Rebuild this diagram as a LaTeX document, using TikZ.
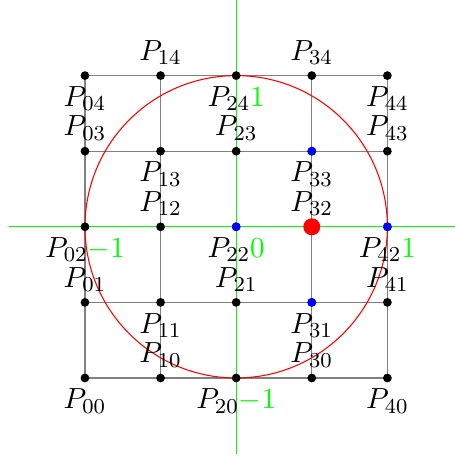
\documentclass[tikz,border=0pt]{standalone}
\begin{document}
\begin{tikzpicture}[
  gridline/.style={gray, line width=0.4pt},
  axisline/.style={green, line width=0.4pt},
  circleline/.style={red, line width=0.4pt},
  dot/.style={circle, fill=black, inner sep=0pt, minimum size=3.3pt},
  bluedot/.style={dot, fill=blue},
  reddot/.style={circle, fill=red, inner sep=0pt, minimum size=6.4pt},
  lab/.style={inner sep=3.9pt, font=\fontsize{10.95}{13.6}\selectfont}
]
\useasboundingbox (-1.124,-1.045) rectangle (4.894,5.0);
% coordinates
\foreach \i in {0,...,4}{
  \foreach \j in {0,...,4}{
    \coordinate (p\i\j) at (\i,\j);
  }
}
% grid
\foreach \j in {0,...,4}{
  \draw[gridline] (p0\j) -- (p4\j);
}
\foreach \i in {0,...,4}{
  \draw[gridline] (p\i0) -- (p\i4);
}
% axes
\coordinate (xa) at (-1,2);
\coordinate (xb) at (5,2);
\coordinate (ya) at (2,-1);
\coordinate (yb) at (2,5);
\draw[axisline] (xa) -- (xb);
\draw[axisline] (ya) -- (yb);
% circle
\draw[circleline] (p22) circle (2);
% dots
\foreach \i in {0,...,4}{
  \foreach \j in {0,...,4}{
    \node[dot] (d\i\j) at (p\i\j) {};
  }
}
\node[bluedot] (b22) at (p22) {};
\node[bluedot] (b33) at (p33) {};
\node[bluedot] (b31) at (p31) {};
\node[bluedot] (b42) at (p42) {};
\node[reddot] (r32) at (p32) {};
% labels
\foreach \i/\j/\pos in {
  0/4/below,1/4/above,3/4/above,4/4/below,
  0/3/above,1/3/below,2/3/above,3/3/below,4/3/above,
  1/2/above,3/2/above,
  0/1/above,1/1/below,2/1/above,3/1/below,4/1/above,
  0/0/below,1/0/above,3/0/above,4/0/below}{
  \node[lab,\pos] (l\i\j) at (p\i\j) {$P_{\i\j}$};
}
\node[lab,below] (l24) at (p24) {$P_{24}$\textcolor{green}{1}};
\node[lab,below] (l02) at (p02) {$P_{02}$\textcolor{green}{$-1$}};
\node[lab,below] (l22) at (p22) {$P_{22}$\textcolor{green}{0}};
\node[lab,below] (l42) at (p42) {$P_{42}$\textcolor{green}{1}};
\node[lab,below] (l20) at (p20) {$P_{20}$\textcolor{green}{$-1$}};
\end{tikzpicture}
\end{document}
